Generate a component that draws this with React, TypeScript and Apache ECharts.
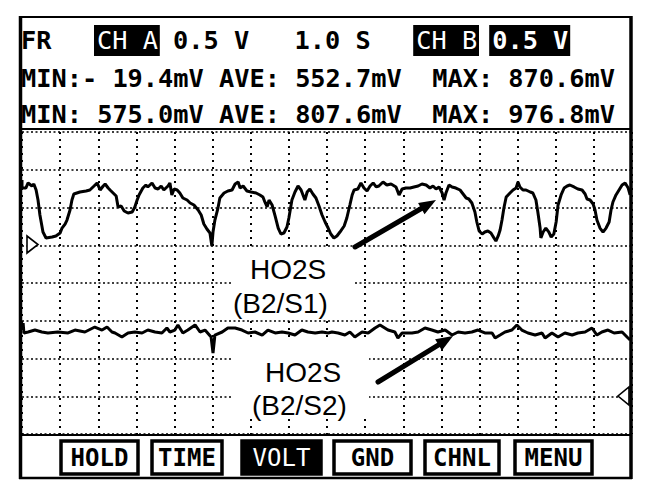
import React, { useEffect, useRef } from "react";
import * as echarts from "echarts";

// Channel A trace: time (s) and voltage (mV)
const timeA = [
  0, 0, 0.1, 0.16, 0.26, 0.31, 0.37, 0.42, 0.47, 0.55,
  0.63, 0.79, 0.89, 1.0, 1.05, 1.13, 1.18, 1.26, 1.31, 1.36,
  1.52, 1.68, 1.78, 1.89, 1.97, 2.05, 2.13, 2.18, 2.26, 2.31,
  2.39, 2.47, 2.52, 2.6, 2.68, 2.78, 2.89, 2.96, 3.02, 3.07,
  3.17, 3.25, 3.3, 3.41, 3.49, 3.57, 3.65, 3.72, 3.83, 3.88,
  3.93, 3.99, 4.07, 4.14, 4.22, 4.33, 4.41, 4.51, 4.62, 4.7,
  4.77, 4.85, 4.93, 4.98, 5.01, 5.06, 5.14, 5.19, 5.3, 5.4,
  5.51, 5.59, 5.67, 5.72, 5.8, 5.9, 6.01, 6.14, 6.24, 6.32,
  6.37, 6.43, 6.48, 6.56, 6.64, 6.72, 6.79, 6.87, 6.95, 7.0,
  7.08, 7.16, 7.24, 7.32, 7.37, 7.42, 7.48, 7.55, 7.63, 7.71,
  7.79, 7.87, 7.95, 8.03, 8.1, 8.18, 8.26, 8.34, 8.45, 8.52,
  8.6, 8.66, 8.71, 8.81, 8.89, 8.97, 9.05, 9.13, 9.21, 9.29,
  9.36, 9.47, 9.57, 9.68, 9.81, 9.89, 9.97, 10.07, 10.18, 10.28,
  10.39, 10.49, 10.6, 10.7, 10.78, 10.86, 10.94, 11.02, 11.07, 11.12,
  11.2, 11.28, 11.38, 11.49, 11.57, 11.65, 11.72, 11.8, 11.88, 11.93,
  11.99, 12.07, 12.14, 12.22, 12.3, 12.38, 12.43, 12.49, 12.54, 12.59,
  12.64, 12.7, 12.8, 12.88, 12.96, 13.01, 13.06, 13.14, 13.22, 13.33,
  13.4, 13.48, 13.53, 13.59, 13.61, 13.67, 13.74, 13.82, 13.88, 13.95,
  14.01, 14.06, 14.14, 14.22, 14.3, 14.37, 14.48, 14.58, 14.69, 14.77,
  14.82, 14.9, 14.98, 15.03, 15.08, 15.16, 15.24, 15.32, 15.4, 15.45,
  15.5, 15.58, 15.66, 15.74, 15.82, 15.9, 15.95,
];
const mvA = [
  864, 758, 758, 825, 785, 811, 732, 599, 401, 175,
  96, 109, 123, 162, 228, 281, 334, 467, 599, 679,
  705, 719, 732, 785, 825, 732, 785, 811, 758, 732,
  692, 652, 507, 520, 454, 427, 440, 507, 599, 666,
  758, 798, 772, 825, 758, 745, 785, 732, 785, 825,
  666, 745, 732, 692, 626, 599, 560, 533, 467, 401,
  281, 215, 162, -10, 175, 334, 493, 626, 692, 719,
  732, 811, 838, 758, 785, 719, 705, 692, 666, 639,
  573, 507, 599, 533, 387, 228, 149, 162, 242, 361,
  599, 705, 785, 732, 666, 599, 705, 745, 679, 626,
  520, 401, 308, 228, 149, 96, 123, 175, 255, 361,
  533, 666, 732, 745, 825, 758, 719, 785, 825, 772,
  785, 838, 798, 811, 772, 666, 745, 758, 758, 772,
  785, 811, 798, 758, 785, 745, 772, 692, 599, 692,
  798, 772, 758, 732, 679, 626, 613, 560, 440, 308,
  189, 149, 175, 189, 162, 96, 56, 123, 202, 334,
  493, 639, 692, 732, 758, 838, 772, 732, 732, 705,
  692, 599, 440, 228, 96, 175, 228, 175, 109, 149,
  308, 533, 666, 758, 785, 798, 772, 745, 732, 679,
  613, 599, 546, 467, 334, 228, 175, 228, 308, 467,
  573, 666, 732, 798, 825, 758, 666,
];

// Channel B trace: time (s) and voltage (mV)
const timeB = [
  0, 0.03, 0.05, 0.16, 0.34, 0.52, 0.68, 0.94, 1.21, 1.39,
  1.65, 1.91, 2.1, 2.23, 2.36, 2.44, 2.62, 2.78, 2.96, 3.15,
  3.3, 3.49, 3.67, 3.8, 3.88, 4.01, 4.09, 4.22, 4.35, 4.54,
  4.67, 4.8, 4.96, 5.01, 5.06, 5.25, 5.4, 5.59, 5.77, 5.93,
  6.11, 6.3, 6.45, 6.64, 6.82, 6.98, 7.16, 7.34, 7.5, 7.69,
  7.87, 8.03, 8.13, 8.29, 8.47, 8.6, 8.73, 8.92, 9.08, 9.26,
  9.39, 9.6, 9.78, 9.86, 9.97, 10.23, 10.39, 10.57, 10.75, 10.91,
  11.1, 11.28, 11.44, 11.62, 11.8, 11.96, 12.14, 12.33, 12.41, 12.54,
  12.67, 12.85, 12.98, 13.11, 13.27, 13.46, 13.64, 13.72, 13.9, 14.06,
  14.24, 14.43, 14.58, 14.77, 14.95, 15.08, 15.21, 15.37, 15.53, 15.74,
  15.87, 15.95,
];
const mvB = [
  877, 970, 838, 851, 877, 851, 838, 851, 838, 877,
  851, 917, 877, 917, 851, 838, 785, 838, 851, 838,
  877, 851, 838, 904, 851, 877, 944, 838, 877, 944,
  851, 877, 785, 573, 811, 851, 904, 904, 877, 838,
  851, 811, 877, 838, 851, 838, 811, 877, 851, 838,
  851, 838, 851, 838, 811, 851, 785, 851, 838, 904,
  944, 877, 851, 772, 838, 838, 851, 904, 877, 851,
  877, 811, 851, 838, 851, 877, 838, 838, 772, 811,
  851, 877, 944, 877, 838, 811, 838, 772, 838, 785,
  838, 811, 838, 851, 904, 811, 851, 877, 838, 851,
  785, 745,
];

// Header texts
const row1 = [
  { text: "FR", col: 0, inv: false, bold: true },
  { text: "CH A", col: 5, inv: true, bold: false },
  { text: "0.5 V", col: 10, inv: false, bold: true },
  { text: "1.0 S", col: 18, inv: false, bold: true },
  { text: "CH B", col: 26, inv: true, bold: false },
  { text: "0.5 V", col: 31, inv: true, bold: true },
];
const statsA = "MIN:- 19.4mV AVE: 552.7mV  MAX: 870.6mV";
const statsB = "MIN: 575.0mV AVE: 807.6mV  MAX: 976.8mV";
const buttons = ["HOLD", "TIME", "VOLT", "GND", "CHNL", "MENU"];
const activeButton = "VOLT";
const labelA = ["HO2S", "(B2/S1)"];
const labelB = ["HO2S", "(B2/S2)"];

const MONO = '"DejaVu Sans Mono", "Liberation Mono", monospace';
const SANS = '"Liberation Sans", Arial, sans-serif';

export default function App() {
  const ref = useRef<HTMLDivElement>(null);

  useEffect(() => {
    if (!ref.current) return;
    const chart = echarts.init(ref.current, undefined, { renderer: "svg" });

    const cw = 15.2;
    const cx0 = 21;
    const colX = (c: number) => cx0 + c * cw;
    const hdrFont = 25.3;

    const g: any[] = [];
    const Z = 100;

    // header row 1
    row1.forEach((t) => {
      const x = colX(t.col);
      if (t.inv) {
        g.push({
          type: "rect",
          z: Z,
          shape: { x: x - 3, y: 25, width: t.text.length * cw + 5, height: 31 },
          style: { fill: "#000" },
        });
      }
      g.push({
        type: "text",
        z: Z + 1,
        style: {
          text: t.text,
          x,
          y: 40,
          fill: t.inv ? "#fff" : "#000",
          fontFamily: MONO,
          fontSize: hdrFont,
          fontWeight: t.bold ? "bold" : "normal",
          verticalAlign: "middle",
          align: "left",
        },
      });
    });
    [
      [statsA, 78],
      [statsB, 114],
    ].forEach(([s, y]) => {
      g.push({
        type: "text",
        z: Z + 1,
        style: {
          text: s,
          x: cx0,
          y,
          fill: "#000",
          fontFamily: MONO,
          fontSize: hdrFont,
          fontWeight: "bold",
          verticalAlign: "middle",
        },
      });
    });

    // label backgrounds
    g.push({ type: "rect", z: Z, shape: { x: 231, y: 250, width: 122, height: 68 }, style: { fill: "#fff" } });
    g.push({ type: "rect", z: Z, shape: { x: 232, y: 342, width: 137, height: 77 }, style: { fill: "#fff" } });

    const lab = (text: string, x: number, y: number) => ({
      type: "text",
      z: Z + 1,
      style: { text, x, y, fill: "#000", fontFamily: SANS, fontSize: 28, verticalAlign: "middle" },
    });
    g.push(lab(labelA[0], 250, 269));
    g.push(lab(labelA[1], 233, 303));
    g.push(lab(labelB[0], 265, 372));
    g.push(lab(labelB[1], 252, 405));

    // arrows
    const arrow = (x1: number, y1: number, x2: number, y2: number) => {
      const dx = x2 - x1;
      const dy = y2 - y1;
      const L = Math.hypot(dx, dy);
      const ux = dx / L;
      const uy = dy / L;
      const px = -uy;
      const py = ux;
      const hl = 17;
      const hw = 6.5;
      const bx = x2 - ux * hl;
      const by = y2 - uy * hl;
      g.push({
        type: "line",
        z: Z + 2,
        shape: { x1, y1, x2: bx + ux * 2, y2: by + uy * 2 },
        style: { stroke: "#000", lineWidth: 5, lineCap: "round" },
      });
      g.push({
        type: "polygon",
        z: Z + 2,
        shape: {
          points: [
            [x2, y2],
            [bx + px * hw, by + py * hw],
            [bx - px * hw, by - py * hw],
          ],
        },
        style: { fill: "#000" },
      });
    };
    arrow(355, 247, 436, 200);
    arrow(378, 382, 453, 336);

    // ground markers
    g.push({
      type: "polygon",
      z: Z + 2,
      shape: { points: [[27, 236], [27, 253], [38, 244.5]] },
      style: { fill: "#fff", stroke: "#000", lineWidth: 1.6 },
    });
    g.push({
      type: "polygon",
      z: Z + 2,
      shape: { points: [[629, 387], [629, 405], [618, 396]] },
      style: { fill: "#fff", stroke: "#000", lineWidth: 1.6 },
    });

    // frame
    const ln = (x1: number, y1: number, x2: number, y2: number, w: number) => ({
      type: "line",
      z: Z + 3,
      shape: { x1, y1, x2, y2 },
      style: { stroke: "#000", lineWidth: w },
    });
    g.push(ln(19, 17, 632, 17, 2));
    g.push(ln(19, 478, 632, 478, 2.5));
    g.push(ln(20.5, 16, 20.5, 479, 3.5));
    g.push(ln(631, 16, 631, 479, 3.5));
    g.push(ln(19, 129, 632, 129, 2));
    g.push(ln(19, 435, 632, 435, 2));

    // bottom buttons
    const bx = [61, 152, 242, 334, 425, 515];
    const bw = [77, 70, 79, 77, 74, 77];
    buttons.forEach((b, i) => {
      const active = b === activeButton;
      g.push({
        type: "rect",
        z: Z + 1,
        shape: { x: bx[i], y: 441, width: bw[i], height: 33 },
        style: { fill: active ? "#000" : "#fff", stroke: "#000", lineWidth: 3.5 },
      });
      g.push({
        type: "text",
        z: Z + 2,
        style: {
          text: b,
          x: bx[i] + bw[i] / 2,
          y: 458,
          fill: active ? "#fff" : "#000",
          fontFamily: MONO,
          fontSize: 24,
          fontWeight: active ? "normal" : "bold",
          align: "center",
          verticalAlign: "middle",
        },
      });
    });

    const option: any = {
      animation: false,
      backgroundColor: "#fff",
      grid: { left: 22, right: 40, top: 132, bottom: 60 },
      xAxis: {
        type: "value",
        min: 0,
        max: 16,
        interval: 1,
        axisLine: { show: false },
        axisTick: { show: false },
        axisLabel: { show: false },
        splitLine: { show: true, lineStyle: { color: "#000", width: 2, type: [2, 5] } },
      },
      yAxis: [
        {
          type: "value",
          min: -2500,
          max: 1500,
          interval: 500,
          axisLine: { show: false },
          axisTick: { show: false },
          axisLabel: { show: false },
          splitLine: { show: true, lineStyle: { color: "#000", width: 1.6, type: [2, 2.5] } },
        },
        {
          type: "value",
          min: -500,
          max: 3500,
          interval: 500,
          axisLine: { show: false },
          axisTick: { show: false },
          axisLabel: { show: false },
          splitLine: { show: false },
        },
      ],
      series: [
        {
          name: "CH A",
          type: "line",
          yAxisIndex: 0,
          data: timeA.map((t, i) => [t, mvA[i]]),
          showSymbol: false,
          lineStyle: { color: "#000", width: 3 },
          z: 5,
        },
        {
          name: "CH B",
          type: "line",
          yAxisIndex: 1,
          data: timeB.map((t, i) => [t, mvB[i]]),
          showSymbol: false,
          lineStyle: { color: "#000", width: 3 },
          z: 5,
        },
      ],
      graphic: { elements: g },
    };

    chart.setOption(option);
    return () => chart.dispose();
  }, []);

  return <div ref={ref} style={{ width: 672, height: 494, position: "absolute", left: 0, top: 0 }} />;
}
